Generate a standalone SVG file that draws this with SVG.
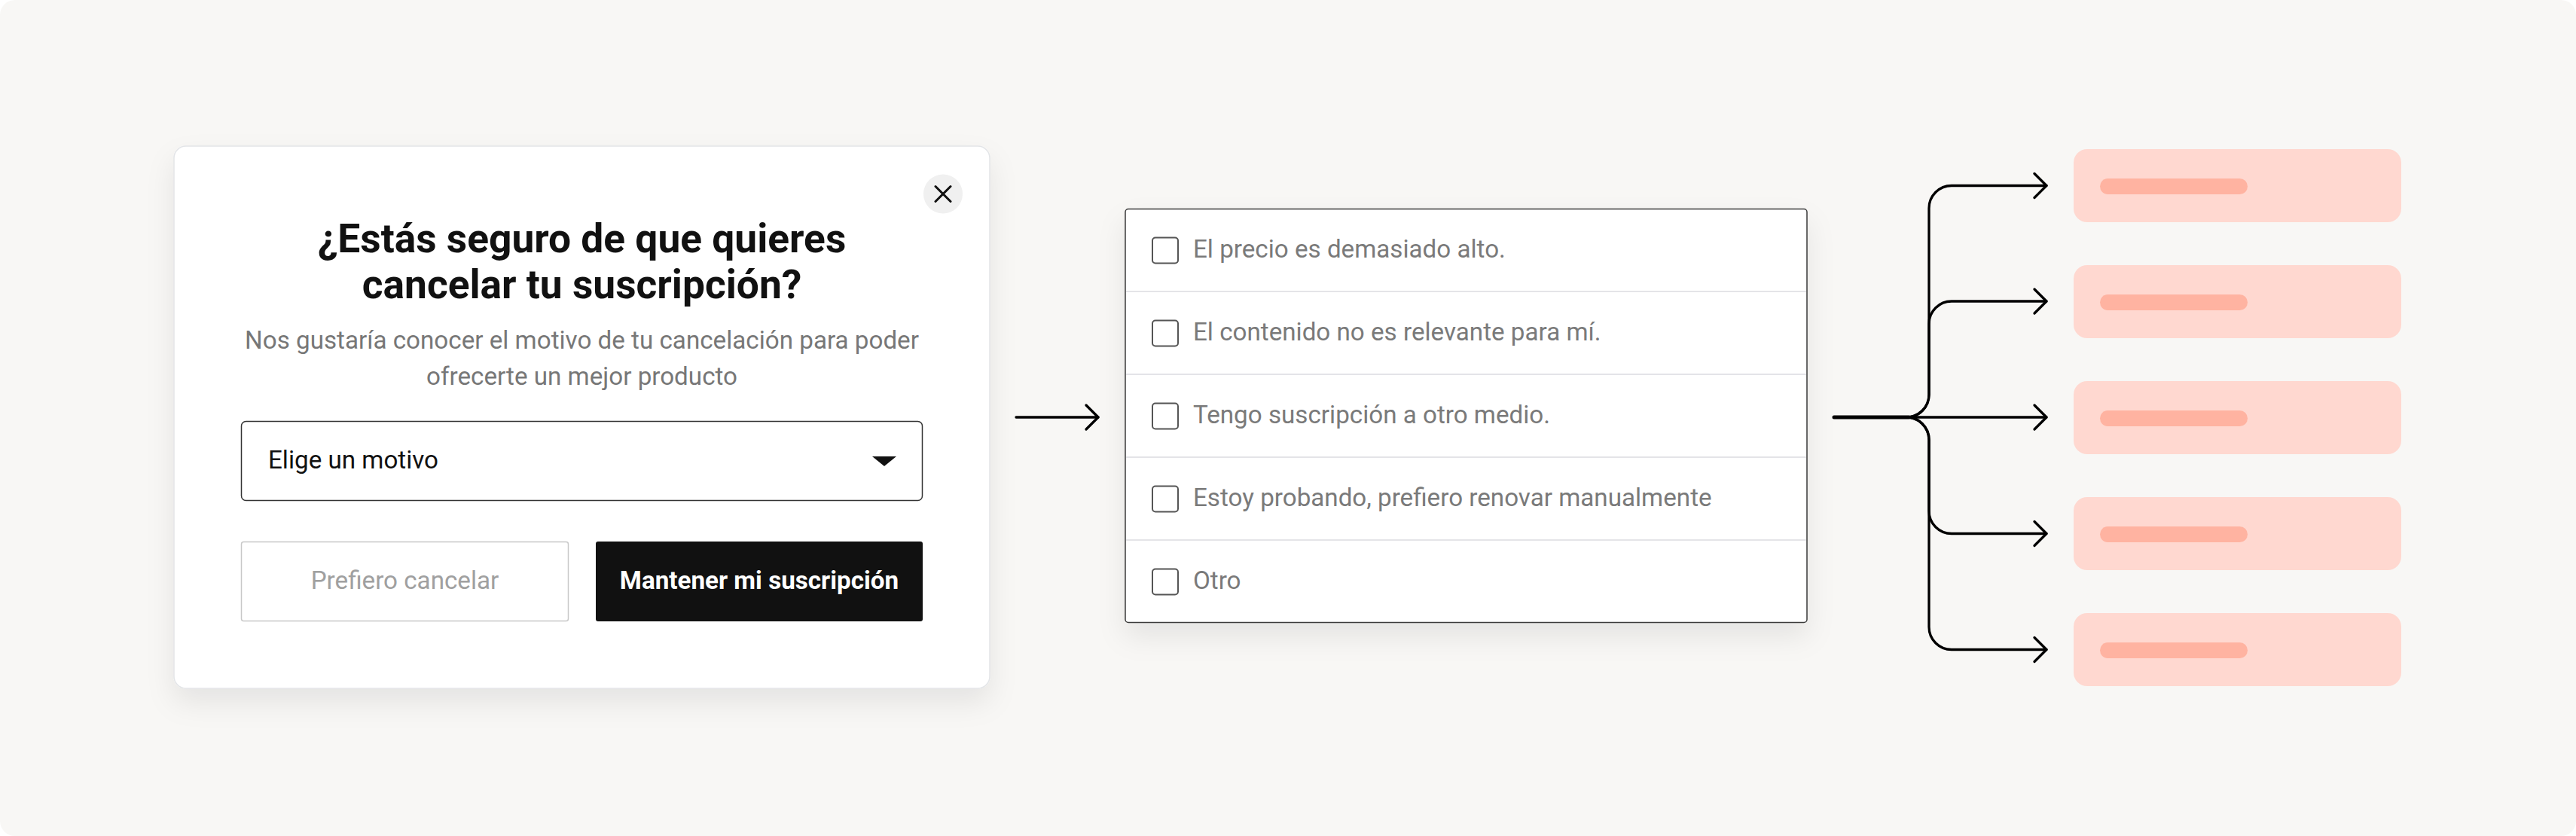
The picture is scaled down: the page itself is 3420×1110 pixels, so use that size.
<svg xmlns="http://www.w3.org/2000/svg" width="3420" height="1110" viewBox="0 0 3420 1110">
<defs>
<style>
.title{font-family:Roboto,"Liberation Sans",sans-serif;font-weight:700;font-size:53.3px;fill:#111;text-anchor:middle}
.sub{font-family:Roboto,"Liberation Sans",sans-serif;font-size:33.2px;fill:#777;text-anchor:middle}
.opt{font-family:Roboto,"Liberation Sans",sans-serif;font-size:33.2px;fill:#7a7a7a}
.chk{fill:#fff;stroke:#555;stroke-width:2}
.div{stroke:#e4e4e8;stroke-width:2}
.conn{fill:none;stroke:#000;stroke-width:3.3;stroke-linecap:round;stroke-linejoin:round}
.card{fill:#FFD8D0}
.bar{fill:#FFB3A1}
</style>
<filter id="sh" x="-20%" y="-20%" width="140%" height="150%">
<feDropShadow dx="0" dy="18" stdDeviation="18" flood-color="#000" flood-opacity="0.08"/>
</filter>
<marker id="ah" viewBox="-20 -20 40 40" refX="0" refY="0" markerWidth="40" markerHeight="40" markerUnits="userSpaceOnUse" orient="auto">
<path d="M-16,-16 L0,0 L-16,16" fill="none" stroke="#000" stroke-width="3.3" stroke-linecap="round" stroke-linejoin="round"/>
</marker>
</defs>
<rect x="0" y="0" width="3420" height="1110" fill="#fff"/>
<rect x="0" y="0" width="3420" height="1110" rx="20" fill="#F8F7F5"/>

<g id="modal">
<rect x="231" y="194" width="1083" height="720" rx="16" fill="#fff" stroke="#e3e5e8" stroke-width="1.5" filter="url(#sh)"/>
<g id="close">
<circle cx="1252" cy="257.5" r="26" fill="#f0f0f0"/>
<path d="M1242,247.5 L1262,267.5 M1262,247.5 L1242,267.5" stroke="#111" stroke-width="3" stroke-linecap="round"/>
</g>
<text class="title" x="772.5" y="335">¿Estás seguro de que quieres</text>
<text class="title" x="772.5" y="396">cancelar tu suscripción?</text>
<text class="sub" x="772.5" y="463">Nos gustaría conocer el motivo de tu cancelación para poder</text>
<text class="sub" x="772.5" y="511">ofrecerte un mejor producto</text>
<g id="dropdown">
<rect x="320.5" y="559.5" width="904" height="105" rx="6" fill="#fff" stroke="#333" stroke-width="1.5"/>
<text x="356" y="622" font-family="Roboto, 'Liberation Sans', sans-serif" font-size="33.2" fill="#111">Elige un motivo</text>
<path d="M1158,606 L1190,606 L1174,619 Z" fill="#111"/>
</g>
<g id="btn-cancel">
<rect x="320.5" y="719.5" width="434" height="105" rx="3" fill="#fff" stroke="#c8c8c8" stroke-width="1.5"/>
<text x="537.5" y="782" font-family="Roboto, 'Liberation Sans', sans-serif" font-size="33.2" fill="#a0a0a0" text-anchor="middle">Prefiero cancelar</text>
</g>
<g id="btn-keep">
<rect x="791" y="719" width="434" height="106" rx="3" fill="#111"/>
<text x="1008" y="782" font-family="Roboto, 'Liberation Sans', sans-serif" font-size="33.2" font-weight="700" fill="#fff" text-anchor="middle">Mantener mi suscripción</text>
</g>
</g>

<g id="options">
<rect x="1494" y="277.5" width="905" height="549" rx="4" fill="#fff" stroke="#3a3a3a" stroke-width="1.5" filter="url(#sh)"/>
<line class="div" x1="1495" y1="387" x2="2398" y2="387"/>
<line class="div" x1="1495" y1="497" x2="2398" y2="497"/>
<line class="div" x1="1495" y1="607" x2="2398" y2="607"/>
<line class="div" x1="1495" y1="717" x2="2398" y2="717"/>
<g id="opt1"><rect class="chk" x="1530" y="315.5" width="34" height="34" rx="4"/><text class="opt" x="1584" y="342">El precio es demasiado alto.</text></g>
<g id="opt2"><rect class="chk" x="1530" y="425.5" width="34" height="34" rx="4"/><text class="opt" x="1584" y="452">El contenido no es relevante para mí.</text></g>
<g id="opt3"><rect class="chk" x="1530" y="535.5" width="34" height="34" rx="4"/><text class="opt" x="1584" y="562">Tengo suscripción a otro medio.</text></g>
<g id="opt4"><rect class="chk" x="1530" y="645.5" width="34" height="34" rx="4"/><text class="opt" x="1584" y="672">Estoy probando, prefiero renovar manualmente</text></g>
<g id="opt5"><rect class="chk" x="1530" y="755.5" width="34" height="34" rx="4"/><text class="opt" x="1584" y="782">Otro</text></g>
</g>

<g id="results">
<g id="r1"><rect class="card" x="2753" y="198" width="435" height="97" rx="18"/><rect class="bar" x="2788" y="237" width="196" height="21" rx="10.5"/></g>
<g id="r2"><rect class="card" x="2753" y="352" width="435" height="97" rx="18"/><rect class="bar" x="2788" y="391" width="196" height="21" rx="10.5"/></g>
<g id="r3"><rect class="card" x="2753" y="506" width="435" height="97" rx="18"/><rect class="bar" x="2788" y="545" width="196" height="21" rx="10.5"/></g>
<g id="r4"><rect class="card" x="2753" y="660" width="435" height="97" rx="18"/><rect class="bar" x="2788" y="699" width="196" height="21" rx="10.5"/></g>
<g id="r5"><rect class="card" x="2753" y="814" width="435" height="97" rx="18"/><rect class="bar" x="2788" y="853" width="196" height="21" rx="10.5"/></g>
</g>

<g id="connectors">
<path class="conn" d="M1349,554 H1458" marker-end="url(#ah)"/>
<path d="M2435,554 H2534" fill="none" stroke="#000" stroke-width="5" stroke-linecap="round"/>
<path class="conn" d="M2531,554 A30,30 0 0 0 2561,524 V276.5 A30,30 0 0 1 2591,246.5 H2717" marker-end="url(#ah)"/>
<path class="conn" d="M2531,554 A30,30 0 0 0 2561,524 V430 A30,30 0 0 1 2591,400 H2717" marker-end="url(#ah)"/>
<path class="conn" d="M2531,554 H2717" marker-end="url(#ah)"/>
<path class="conn" d="M2531,554 A30,30 0 0 1 2561,584 V678.5 A30,30 0 0 0 2591,708.5 H2717" marker-end="url(#ah)"/>
<path class="conn" d="M2531,554 A30,30 0 0 1 2561,584 V832.5 A30,30 0 0 0 2591,862.5 H2717" marker-end="url(#ah)"/>
</g>
</svg>
